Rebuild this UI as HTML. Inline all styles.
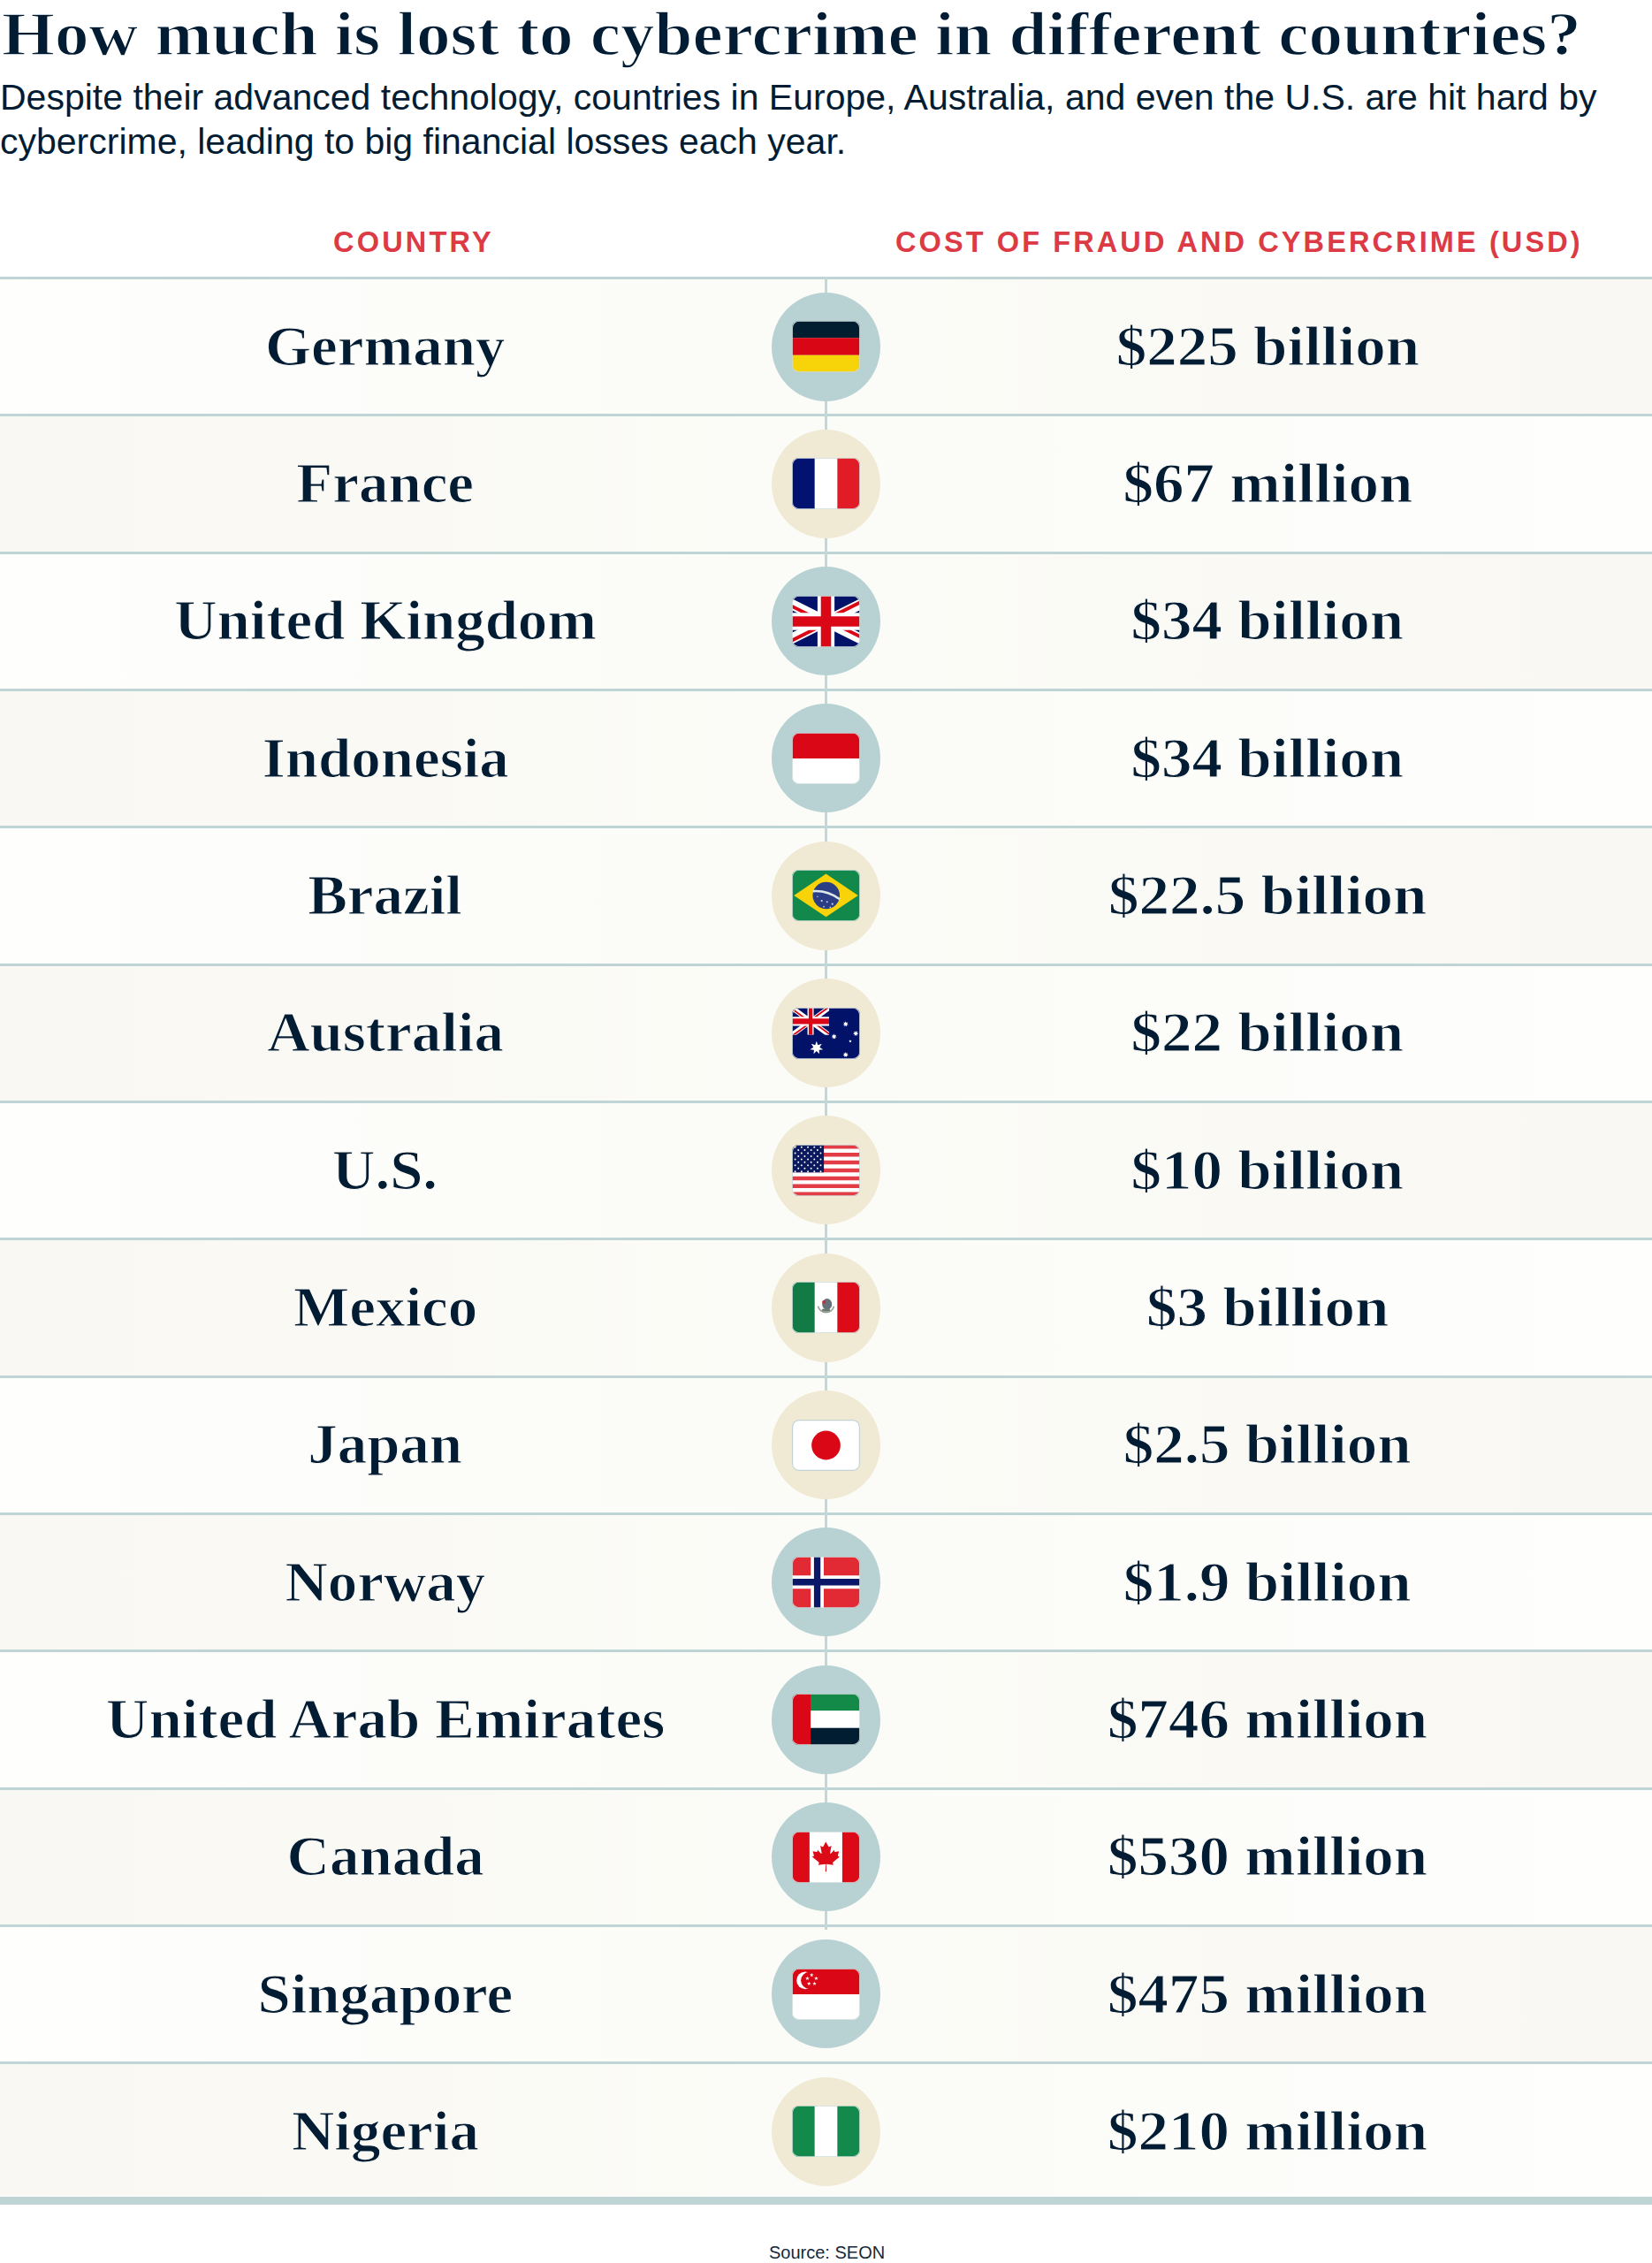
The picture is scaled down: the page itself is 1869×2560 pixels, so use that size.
<!DOCTYPE html><html><head><meta charset="utf-8"><title>Cybercrime losses</title><style>
*{margin:0;padding:0;box-sizing:border-box}
html,body{width:1869px;height:2560px;background:#fff;overflow:hidden}
body{position:relative;font-family:"Liberation Sans",sans-serif;color:#021d33}
.abs{position:absolute}
.title{position:absolute;left:0;top:0;white-space:nowrap;font-family:"Liberation Serif",serif;font-weight:bold;font-size:69.5px;line-height:0;transform-origin:0 0;-webkit-text-stroke:1.4px #fff}
.sub{position:absolute;left:0;white-space:nowrap;font-size:41px;line-height:0}
.hdr{position:absolute;white-space:nowrap;font-weight:bold;font-size:32.5px;line-height:0;color:#dc3a45}
.row{position:absolute;left:0;width:1869px}
.sep{position:absolute;left:0;width:1869px;height:3px;background:#bfd5d5}
.vline{position:absolute;left:933px;width:3px;background:#c2d7d7}
.circ{position:absolute;width:123px;height:123px;border-radius:50%}
.flag{position:absolute;width:77px;height:58px}
.name,.val{position:absolute;white-space:nowrap;font-family:"Liberation Serif",serif;font-weight:bold;font-size:62.5px;line-height:0;text-align:center;width:0;display:flex;justify-content:center}
.name span,.val span{display:inline-block;transform-origin:50% 0;-webkit-text-stroke:1.1px #fbfaf6}
.src{position:absolute;white-space:nowrap;font-size:20px;line-height:0;color:#14293d}
</style></head><body>
<div class="title" style="top:38.7px;left:1.5px;transform:scaleX(1.109)">How much is lost to cybercrime in different countries?</div>
<div class="sub" style="top:110.0px;letter-spacing:0px">Despite their advanced technology, countries in Europe, Australia, and even the U.S. are hit hard by</div>
<div class="sub" style="top:160.2px;letter-spacing:0px">cybercrime, leading to big financial losses each year.</div>
<div class="hdr" style="top:273.8px;left:377px;letter-spacing:3.2px">COUNTRY</div>
<div class="hdr" style="top:273.8px;left:1013px;letter-spacing:3.1px">COST OF FRAUD AND CYBERCRIME (USD)</div>
<div class="row" style="top:313.00px;height:155.33px;background:linear-gradient(90deg,#fefefd 0%,#fbfbf7 50%,#f9f8f3 100%)"></div>
<div class="sep" style="top:313.00px"></div>
<div class="row" style="top:468.33px;height:155.33px;background:linear-gradient(90deg,#f9f8f3 0%,#fbfbf7 50%,#fefefd 100%)"></div>
<div class="sep" style="top:468.33px"></div>
<div class="row" style="top:623.66px;height:155.33px;background:linear-gradient(90deg,#fefefd 0%,#fbfbf7 50%,#f9f8f3 100%)"></div>
<div class="sep" style="top:623.66px"></div>
<div class="row" style="top:778.99px;height:155.33px;background:linear-gradient(90deg,#f9f8f3 0%,#fbfbf7 50%,#fefefd 100%)"></div>
<div class="sep" style="top:778.99px"></div>
<div class="row" style="top:934.32px;height:155.33px;background:linear-gradient(90deg,#fefefd 0%,#fbfbf7 50%,#f9f8f3 100%)"></div>
<div class="sep" style="top:934.32px"></div>
<div class="row" style="top:1089.65px;height:155.33px;background:linear-gradient(90deg,#f9f8f3 0%,#fbfbf7 50%,#fefefd 100%)"></div>
<div class="sep" style="top:1089.65px"></div>
<div class="row" style="top:1244.98px;height:155.33px;background:linear-gradient(90deg,#fefefd 0%,#fbfbf7 50%,#f9f8f3 100%)"></div>
<div class="sep" style="top:1244.98px"></div>
<div class="row" style="top:1400.31px;height:155.33px;background:linear-gradient(90deg,#f9f8f3 0%,#fbfbf7 50%,#fefefd 100%)"></div>
<div class="sep" style="top:1400.31px"></div>
<div class="row" style="top:1555.64px;height:155.33px;background:linear-gradient(90deg,#fefefd 0%,#fbfbf7 50%,#f9f8f3 100%)"></div>
<div class="sep" style="top:1555.64px"></div>
<div class="row" style="top:1710.97px;height:155.33px;background:linear-gradient(90deg,#f9f8f3 0%,#fbfbf7 50%,#fefefd 100%)"></div>
<div class="sep" style="top:1710.97px"></div>
<div class="row" style="top:1866.30px;height:155.33px;background:linear-gradient(90deg,#fefefd 0%,#fbfbf7 50%,#f9f8f3 100%)"></div>
<div class="sep" style="top:1866.30px"></div>
<div class="row" style="top:2021.63px;height:155.33px;background:linear-gradient(90deg,#f9f8f3 0%,#fbfbf7 50%,#fefefd 100%)"></div>
<div class="sep" style="top:2021.63px"></div>
<div class="row" style="top:2176.96px;height:155.33px;background:linear-gradient(90deg,#fefefd 0%,#fbfbf7 50%,#f9f8f3 100%)"></div>
<div class="sep" style="top:2176.96px"></div>
<div class="row" style="top:2332.29px;height:152.21px;background:linear-gradient(90deg,#f9f8f3 0%,#fbfbf7 50%,#fefefd 100%)"></div>
<div class="sep" style="top:2332.29px"></div>
<div class="vline" style="top:313px;height:1870px"></div>
<div class="circ" style="left:873.00px;top:330.50px;background:#b8d2d3"></div>
<svg class="flag" style="left:896.00px;top:363.00px" viewBox="0 0 640 480" preserveAspectRatio="none"><defs><clipPath id="cde"><rect x="0" y="0" width="640" height="480" rx="66" ry="66"/></clipPath></defs><g clip-path="url(#cde)"><path fill="#011e31" d="M0 0h640v160H0z"/><path fill="#d90616" d="M0 160h640v160H0z"/><path fill="#f7d30a" d="M0 320h640v160H0z"/><rect x="0" y="0" width="640" height="480" rx="66" ry="66" fill="none" stroke="#cddbdb" stroke-width="14"/></g></svg>
<div class="name" style="left:436px;top:391.61px"><span style="transform:scaleX(1.071)">Germany</span></div>
<div class="val" style="left:1434px;top:391.61px"><span style="transform:scaleX(1.104)">$225 billion</span></div>
<div class="circ" style="left:873.00px;top:485.83px;background:#f0ead4"></div>
<svg class="flag" style="left:896.00px;top:518.33px" viewBox="0 0 640 480" preserveAspectRatio="none"><defs><clipPath id="cfr"><rect x="0" y="0" width="640" height="480" rx="66" ry="66"/></clipPath></defs><g clip-path="url(#cfr)"><path fill="#fff" d="M0 0h640v480H0z"/><path fill="#011270" d="M0 0h213.3v480H0z"/><path fill="#e21c26" d="M426.7 0H640v480H426.7z"/><rect x="0" y="0" width="640" height="480" rx="66" ry="66" fill="none" stroke="#cddbdb" stroke-width="14"/></g></svg>
<div class="name" style="left:436px;top:546.94px"><span style="transform:scaleX(1.071)">France</span></div>
<div class="val" style="left:1434px;top:546.94px"><span style="transform:scaleX(1.104)">$67 million</span></div>
<div class="circ" style="left:873.00px;top:641.16px;background:#b8d2d3"></div>
<svg class="flag" style="left:896.00px;top:673.66px" viewBox="0 0 640 480" preserveAspectRatio="none"><defs><clipPath id="cgb"><rect x="0" y="0" width="640" height="480" rx="66" ry="66"/></clipPath></defs><g clip-path="url(#cgb)"><svg x="0" y="0" width="640" height="480" viewBox="10 0 40 30" preserveAspectRatio="none"><defs><clipPath id="ujtgb"><path d="M30,15 h30 v15 z v15 h-30 z h-30 v-15 z v-15 h30 z"/></clipPath></defs><path d="M0,0 v30 h60 v-30 z" fill="#011268"/><path d="M0,0 L60,30 M60,0 L0,30" stroke="#fff" stroke-width="6"/><path d="M0,0 L60,30 M60,0 L0,30" clip-path="url(#ujtgb)" stroke="#da0716" stroke-width="4"/><path d="M30,0 v30 M0,15 h60" stroke="#fff" stroke-width="10"/><path d="M30,0 v30 M0,15 h60" stroke="#da0716" stroke-width="6"/></svg><rect x="0" y="0" width="640" height="480" rx="66" ry="66" fill="none" stroke="#cddbdb" stroke-width="14"/></g></svg>
<div class="name" style="left:436px;top:702.27px"><span style="transform:scaleX(1.071)">United Kingdom</span></div>
<div class="val" style="left:1434px;top:702.27px"><span style="transform:scaleX(1.104)">$34 billion</span></div>
<div class="circ" style="left:873.00px;top:796.49px;background:#b8d2d3"></div>
<svg class="flag" style="left:896.00px;top:828.99px" viewBox="0 0 640 480" preserveAspectRatio="none"><defs><clipPath id="cid"><rect x="0" y="0" width="640" height="480" rx="66" ry="66"/></clipPath></defs><g clip-path="url(#cid)"><path fill="#fff" d="M0 0h640v480H0z"/><path fill="#da0716" d="M0 0h640v240H0z"/><rect x="0" y="0" width="640" height="480" rx="66" ry="66" fill="none" stroke="#cddbdb" stroke-width="14"/></g></svg>
<div class="name" style="left:436px;top:857.60px"><span style="transform:scaleX(1.071)">Indonesia</span></div>
<div class="val" style="left:1434px;top:857.60px"><span style="transform:scaleX(1.104)">$34 billion</span></div>
<div class="circ" style="left:873.00px;top:951.82px;background:#f0ead4"></div>
<svg class="flag" style="left:896.00px;top:984.32px" viewBox="0 0 640 480" preserveAspectRatio="none"><defs><clipPath id="cbr"><rect x="0" y="0" width="640" height="480" rx="66" ry="66"/></clipPath></defs><g clip-path="url(#cbr)"><path fill="#12884a" d="M0 0h640v480H0z"/><path fill="#f8d30a" d="M320 38 622 240 320 440 18 240z"/><circle cx="322" cy="240" r="127" fill="#2b3d85"/><path fill="none" stroke="#dfe8e6" stroke-width="22" d="M198 200 Q330 190 450 275"/><g fill="#c9d3e0"><circle cx="280" cy="290" r="9"/><circle cx="330" cy="300" r="8"/><circle cx="380" cy="320" r="9"/><circle cx="300" cy="345" r="7"/><circle cx="360" cy="350" r="7"/><circle cx="240" cy="250" r="6"/></g><rect x="0" y="0" width="640" height="480" rx="66" ry="66" fill="none" stroke="#cddbdb" stroke-width="14"/></g></svg>
<div class="name" style="left:436px;top:1012.93px"><span style="transform:scaleX(1.071)">Brazil</span></div>
<div class="val" style="left:1434px;top:1012.93px"><span style="transform:scaleX(1.104)">$22.5 billion</span></div>
<div class="circ" style="left:873.00px;top:1107.15px;background:#f0ead4"></div>
<svg class="flag" style="left:896.00px;top:1139.65px" viewBox="0 0 640 480" preserveAspectRatio="none"><defs><clipPath id="cau"><rect x="0" y="0" width="640" height="480" rx="66" ry="66"/></clipPath></defs><g clip-path="url(#cau)"><path fill="#011268" d="M0 0h640v480H0z"/><svg x="0" y="0" width="350" height="255" viewBox="0 0 60 30" preserveAspectRatio="none"><defs><clipPath id="ujtau"><path d="M30,15 h30 v15 z v15 h-30 z h-30 v-15 z v-15 h30 z"/></clipPath></defs><path d="M0,0 v30 h60 v-30 z" fill="#011268"/><path d="M0,0 L60,30 M60,0 L0,30" stroke="#fff" stroke-width="6"/><path d="M0,0 L60,30 M60,0 L0,30" clip-path="url(#ujtau)" stroke="#da0716" stroke-width="4"/><path d="M30,0 v30 M0,15 h60" stroke="#fff" stroke-width="10"/><path d="M30,0 v30 M0,15 h60" stroke="#da0716" stroke-width="6"/></svg><g fill="#fff"><polygon points="231.00,313.00 244.02,348.97 280.26,336.72 260.25,369.32 292.42,390.02 254.45,394.70 258.33,432.76 231.00,406.00 203.67,432.76 207.55,394.70 169.58,390.02 201.75,369.32 181.74,336.72 217.98,348.97"/><polygon points="505.00,126.00 510.64,141.29 526.11,136.17 517.67,150.11 531.32,159.01 515.16,161.11 516.71,177.33 505.00,166.00 493.29,177.33 494.84,161.11 478.68,159.01 492.33,150.11 483.89,136.17 499.36,141.29"/><polygon points="396.00,243.00 401.64,258.29 417.11,253.17 408.67,267.11 422.32,276.01 406.16,278.11 407.71,294.33 396.00,283.00 384.29,294.33 385.84,278.11 369.68,276.01 383.33,267.11 374.89,253.17 390.36,258.29"/><polygon points="600.00,214.00 605.64,229.29 621.11,224.17 612.67,238.11 626.32,247.01 610.16,249.11 611.71,265.33 600.00,254.00 588.29,265.33 589.84,249.11 573.68,247.01 587.33,238.11 578.89,224.17 594.36,229.29"/><polygon points="505.00,413.00 510.64,428.29 526.11,423.17 517.67,437.11 531.32,446.01 515.16,448.11 516.71,464.33 505.00,453.00 493.29,464.33 494.84,448.11 478.68,446.01 492.33,437.11 483.89,423.17 499.36,428.29"/><polygon points="548.00,298.00 552.11,307.34 562.27,308.36 554.66,315.16 556.82,325.14 548.00,320.00 539.18,325.14 541.34,315.16 533.73,308.36 543.89,307.34"/></g><rect x="0" y="0" width="640" height="480" rx="66" ry="66" fill="none" stroke="#cddbdb" stroke-width="14"/></g></svg>
<div class="name" style="left:436px;top:1168.26px"><span style="transform:scaleX(1.071)">Australia</span></div>
<div class="val" style="left:1434px;top:1168.26px"><span style="transform:scaleX(1.104)">$22 billion</span></div>
<div class="circ" style="left:873.00px;top:1262.48px;background:#f0ead4"></div>
<svg class="flag" style="left:896.00px;top:1294.98px" viewBox="0 0 640 480" preserveAspectRatio="none"><defs><clipPath id="cus"><rect x="0" y="0" width="640" height="480" rx="66" ry="66"/></clipPath></defs><g clip-path="url(#cus)"><path fill="#fff" d="M0 0h640v480H0z"/><path fill="#e23d47" d="M0 0.00h640v36.92H0z"/><path fill="#e23d47" d="M0 73.85h640v36.92H0z"/><path fill="#e23d47" d="M0 147.69h640v36.92H0z"/><path fill="#e23d47" d="M0 221.54h640v36.92H0z"/><path fill="#e23d47" d="M0 295.38h640v36.92H0z"/><path fill="#e23d47" d="M0 369.23h640v36.92H0z"/><path fill="#e23d47" d="M0 443.08h640v36.92H0z"/><path fill="#0b1a5e" d="M0 0h300v258.46H0z"/><g fill="#fff"><circle cx="30" cy="22" r="8"/><circle cx="90" cy="22" r="8"/><circle cx="150" cy="22" r="8"/><circle cx="210" cy="22" r="8"/><circle cx="270" cy="22" r="8"/><circle cx="60" cy="50" r="8"/><circle cx="120" cy="50" r="8"/><circle cx="180" cy="50" r="8"/><circle cx="240" cy="50" r="8"/><circle cx="30" cy="79" r="8"/><circle cx="90" cy="79" r="8"/><circle cx="150" cy="79" r="8"/><circle cx="210" cy="79" r="8"/><circle cx="270" cy="79" r="8"/><circle cx="60" cy="107" r="8"/><circle cx="120" cy="107" r="8"/><circle cx="180" cy="107" r="8"/><circle cx="240" cy="107" r="8"/><circle cx="30" cy="136" r="8"/><circle cx="90" cy="136" r="8"/><circle cx="150" cy="136" r="8"/><circle cx="210" cy="136" r="8"/><circle cx="270" cy="136" r="8"/><circle cx="60" cy="164" r="8"/><circle cx="120" cy="164" r="8"/><circle cx="180" cy="164" r="8"/><circle cx="240" cy="164" r="8"/><circle cx="30" cy="193" r="8"/><circle cx="90" cy="193" r="8"/><circle cx="150" cy="193" r="8"/><circle cx="210" cy="193" r="8"/><circle cx="270" cy="193" r="8"/><circle cx="60" cy="221" r="8"/><circle cx="120" cy="221" r="8"/><circle cx="180" cy="221" r="8"/><circle cx="240" cy="221" r="8"/><circle cx="30" cy="250" r="8"/><circle cx="90" cy="250" r="8"/><circle cx="150" cy="250" r="8"/><circle cx="210" cy="250" r="8"/><circle cx="270" cy="250" r="8"/></g><rect x="0" y="0" width="640" height="480" rx="66" ry="66" fill="none" stroke="#cddbdb" stroke-width="14"/></g></svg>
<div class="name" style="left:436px;top:1323.59px"><span style="transform:scaleX(1.071)">U.S.</span></div>
<div class="val" style="left:1434px;top:1323.59px"><span style="transform:scaleX(1.104)">$10 billion</span></div>
<div class="circ" style="left:873.00px;top:1417.81px;background:#f0ead4"></div>
<svg class="flag" style="left:896.00px;top:1450.31px" viewBox="0 0 640 480" preserveAspectRatio="none"><defs><clipPath id="cmx"><rect x="0" y="0" width="640" height="480" rx="66" ry="66"/></clipPath></defs><g clip-path="url(#cmx)"><path fill="#fff" d="M0 0h640v480H0z"/><path fill="#127a44" d="M0 0h213.3v480H0z"/><path fill="#dd0b17" d="M426.7 0H640v480H426.7z"/><path d="M245 230 A78 78 0 0 0 395 230" fill="none" stroke="#7a8a7a" stroke-width="14" opacity="0.8"/><ellipse cx="330" cy="210" rx="46" ry="52" fill="#4a5860" opacity="0.85"/><circle cx="300" cy="190" r="16" fill="#c0303a"/><ellipse cx="320" cy="265" rx="40" ry="14" fill="#6b7a70"/><rect x="0" y="0" width="640" height="480" rx="66" ry="66" fill="none" stroke="#cddbdb" stroke-width="14"/></g></svg>
<div class="name" style="left:436px;top:1478.92px"><span style="transform:scaleX(1.071)">Mexico</span></div>
<div class="val" style="left:1434px;top:1478.92px"><span style="transform:scaleX(1.104)">$3 billion</span></div>
<div class="circ" style="left:873.00px;top:1573.14px;background:#f0ead4"></div>
<svg class="flag" style="left:896.00px;top:1605.64px" viewBox="0 0 640 480" preserveAspectRatio="none"><defs><clipPath id="cjp"><rect x="0" y="0" width="640" height="480" rx="66" ry="66"/></clipPath></defs><g clip-path="url(#cjp)"><path fill="#fff" d="M0 0h640v480H0z"/><circle cx="320" cy="240" r="136" fill="#da0716"/><rect x="0" y="0" width="640" height="480" rx="66" ry="66" fill="none" stroke="#c3d3d3" stroke-width="20"/></g></svg>
<div class="name" style="left:436px;top:1634.25px"><span style="transform:scaleX(1.071)">Japan</span></div>
<div class="val" style="left:1434px;top:1634.25px"><span style="transform:scaleX(1.104)">$2.5 billion</span></div>
<div class="circ" style="left:873.00px;top:1728.47px;background:#b8d2d3"></div>
<svg class="flag" style="left:896.00px;top:1760.97px" viewBox="0 0 640 480" preserveAspectRatio="none"><defs><clipPath id="cno"><rect x="0" y="0" width="640" height="480" rx="66" ry="66"/></clipPath></defs><g clip-path="url(#cno)"><path fill="#e12a33" d="M0 0h640v480H0z"/><path fill="#fff" d="M176 0h123v480H176zM0 176h640v123H0z"/><path fill="#0b1869" d="M207 0h61v480h-61zM0 207h640v61H0z"/><rect x="0" y="0" width="640" height="480" rx="66" ry="66" fill="none" stroke="#cddbdb" stroke-width="14"/></g></svg>
<div class="name" style="left:436px;top:1789.58px"><span style="transform:scaleX(1.071)">Norway</span></div>
<div class="val" style="left:1434px;top:1789.58px"><span style="transform:scaleX(1.104)">$1.9 billion</span></div>
<div class="circ" style="left:873.00px;top:1883.80px;background:#b8d2d3"></div>
<svg class="flag" style="left:896.00px;top:1916.30px" viewBox="0 0 640 480" preserveAspectRatio="none"><defs><clipPath id="cae"><rect x="0" y="0" width="640" height="480" rx="66" ry="66"/></clipPath></defs><g clip-path="url(#cae)"><path fill="#138a47" d="M0 0h640v160H0z"/><path fill="#fff" d="M0 160h640v160H0z"/><path fill="#001d32" d="M0 320h640v160H0z"/><path fill="#da0716" d="M0 0h175v480H0z"/><rect x="0" y="0" width="640" height="480" rx="66" ry="66" fill="none" stroke="#cddbdb" stroke-width="14"/></g></svg>
<div class="name" style="left:436px;top:1944.91px"><span style="transform:scaleX(1.071)">United Arab Emirates</span></div>
<div class="val" style="left:1434px;top:1944.91px"><span style="transform:scaleX(1.104)">$746 million</span></div>
<div class="circ" style="left:873.00px;top:2039.13px;background:#b8d2d3"></div>
<svg class="flag" style="left:896.00px;top:2071.63px" viewBox="0 0 640 480" preserveAspectRatio="none"><defs><clipPath id="cca"><rect x="0" y="0" width="640" height="480" rx="66" ry="66"/></clipPath></defs><g clip-path="url(#cca)"><path fill="#fff" d="M0 0h640v480H0z"/><path fill="#dc0a16" d="M0 0h165v480H0zM473 0h167v480H473z"/><path fill="#dc0a16" transform="translate(319 235.5) scale(0.745) translate(-322 -257)" d="M320 70 l-30 58 c-4 6 -10 5 -16 2 l-22 -11 16 85 c3 16 -7 16 -12 10 l-38 -43 -6 22 c-1 3 -4 5 -8 4 l-48 -10 13 45 c3 10 5 14 -3 17 l-17 8 82 67 c3 3 5 7 4 12 l-7 24 c29 -3 55 -9 84 -12 2 0 6 3 6 6 l-3 90 h14 l-3 -90 c0 -3 3 -6 6 -6 29 3 55 9 84 12 l-7 -24 c-1 -5 1 -9 4 -12 l82 -67 -17 -8 c-8 -3 -6 -7 -3 -17 l13 -45 -48 10 c-4 1 -7 -1 -8 -4 l-6 -22 -38 43 c-5 6 -15 6 -12 -10 l16 -85 -22 11 c-6 3 -12 4 -16 -2z"/><rect x="0" y="0" width="640" height="480" rx="66" ry="66" fill="none" stroke="#cddbdb" stroke-width="14"/></g></svg>
<div class="name" style="left:436px;top:2100.24px"><span style="transform:scaleX(1.071)">Canada</span></div>
<div class="val" style="left:1434px;top:2100.24px"><span style="transform:scaleX(1.104)">$530 million</span></div>
<div class="circ" style="left:873.00px;top:2194.46px;background:#b8d2d3"></div>
<svg class="flag" style="left:896.00px;top:2226.96px" viewBox="0 0 640 480" preserveAspectRatio="none"><defs><clipPath id="csg"><rect x="0" y="0" width="640" height="480" rx="66" ry="66"/></clipPath></defs><g clip-path="url(#csg)"><path fill="#fff" d="M0 0h640v480H0z"/><path fill="#da0716" d="M0 0h640v240H0z"/><circle cx="125" cy="110" r="82" fill="#fff"/><circle cx="162" cy="110" r="78" fill="#da0716"/><g fill="#fff"><polygon points="185.00,40.00 189.70,53.53 204.02,53.82 192.61,62.47 196.76,76.18 185.00,68.00 173.24,76.18 177.39,62.47 165.98,53.82 180.30,53.53"/><polygon points="145.00,72.00 149.70,85.53 164.02,85.82 152.61,94.47 156.76,108.18 145.00,100.00 133.24,108.18 137.39,94.47 125.98,85.82 140.30,85.53"/><polygon points="228.00,72.00 232.70,85.53 247.02,85.82 235.61,94.47 239.76,108.18 228.00,100.00 216.24,108.18 220.39,94.47 208.98,85.82 223.30,85.53"/><polygon points="160.00,120.00 164.70,133.53 179.02,133.82 167.61,142.47 171.76,156.18 160.00,148.00 148.24,156.18 152.39,142.47 140.98,133.82 155.30,133.53"/><polygon points="212.00,120.00 216.70,133.53 231.02,133.82 219.61,142.47 223.76,156.18 212.00,148.00 200.24,156.18 204.39,142.47 192.98,133.82 207.30,133.53"/></g><rect x="0" y="0" width="640" height="480" rx="66" ry="66" fill="none" stroke="#cddbdb" stroke-width="14"/></g></svg>
<div class="name" style="left:436px;top:2255.57px"><span style="transform:scaleX(1.071)">Singapore</span></div>
<div class="val" style="left:1434px;top:2255.57px"><span style="transform:scaleX(1.104)">$475 million</span></div>
<div class="circ" style="left:873.00px;top:2349.79px;background:#f0ead4"></div>
<svg class="flag" style="left:896.00px;top:2382.29px" viewBox="0 0 640 480" preserveAspectRatio="none"><defs><clipPath id="cng"><rect x="0" y="0" width="640" height="480" rx="66" ry="66"/></clipPath></defs><g clip-path="url(#cng)"><path fill="#fff" d="M0 0h640v480H0z"/><path fill="#138a4b" d="M0 0h213.3v480H0zM426.7 0H640v480H426.7z"/><rect x="0" y="0" width="640" height="480" rx="66" ry="66" fill="none" stroke="#cddbdb" stroke-width="14"/></g></svg>
<div class="name" style="left:436px;top:2410.90px"><span style="transform:scaleX(1.071)">Nigeria</span></div>
<div class="val" style="left:1434px;top:2410.90px"><span style="transform:scaleX(1.104)">$210 million</span></div>
<div class="abs" style="left:0;top:2484.5px;width:1869px;height:9.5px;background:#bfd5d5"></div>
<div class="src" style="left:870px;top:2548.1px">Source: SEON</div>
</body></html>
